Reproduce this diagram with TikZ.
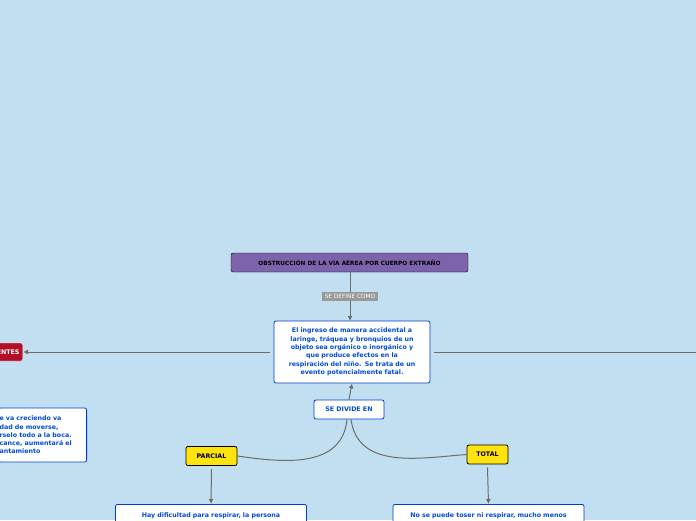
\documentclass[tikz,border=0pt]{standalone}
\usepackage{fontspec}
\setmainfont{DejaVu Sans}
\usetikzlibrary{arrows.meta}
\begin{document}
\begin{tikzpicture}[x=1pt,y=-1pt,
  every node/.style={font=\bfseries\fontsize{6.3}{8.3}\selectfont},
  conn/.style={draw=gray!85!black,line width=1pt},
  arr/.style={conn,-{Latex[length=5pt,width=5pt]}},
  wbox/.style={draw=blue!70!cyan!80!black,fill=white,rounded corners=2pt,text=blue!65!cyan!85!black,align=center,line width=0.8pt},
  ybox/.style={draw=black,fill=yellow!85!orange!95!white,rounded corners=2pt,line width=0.8pt,minimum height=19pt},
  ]
\fill[fill={rgb,255:red,194;green,223;blue,241}] (0,0) rectangle (696,520);
\useasboundingbox (0,0) rectangle (696,520);
\node[draw=black,fill={rgb,255:red,125;green,99;blue,172},rounded corners=2pt,minimum width=237pt,minimum height=19pt,font=\bfseries\fontsize{5.8}{7}\selectfont] (title) at (349.5,262.5) {OBSTRUCCIÓN DE LA VÍA AÉREA POR CUERPO EXTRAÑO};
\node[wbox,minimum width=156pt,minimum height=62pt,text width=150pt,inner sep=1pt] (def) at (352,352) {El ingreso de manera accidental a\\laringe, tráquea y bronquios de un\\objeto sea orgánico o inorgánico y\\que produce efectos en la\\respiración del niño. Se trata de un\\evento potencialmente fatal.};
\node[wbox,minimum width=70pt,minimum height=19pt] (div) at (349,409.5) {SE DIVIDE EN};
\node[draw=white,fill={rgb,255:red,180;green,15;blue,40},text=white,rounded corners=2pt,minimum height=18pt,anchor=east] (ant) at (23,352) {ANTECEDENTES};
\node[wbox,anchor=east,minimum height=54pt,text width=86pt,align=left,inner sep=1pt] (prev) at (87,435) {e va creciendo va\\dad de moverse,\\rselo todo a la boca.\\cance, aumentará el\\antamiento};
\node[ybox,minimum width=51pt,text=black] (par) at (211.5,456) {PARCIAL};
\node[ybox,minimum width=41pt,text=black] (tot) at (487.5,454.5) {TOTAL};
\node[wbox,anchor=north,minimum width=190pt,minimum height=30pt,text width=185pt,inner sep=3pt,align=center] (pb) at (211,504) {Hay dificultad para respirar, la persona\\ \phantom{x}};
\node[wbox,anchor=north,minimum width=191pt,minimum height=30pt,text width=185pt,inner sep=3pt] (tb) at (488.5,504) {No se puede toser ni respirar, mucho menos\\ \phantom{x}};
\coordinate (redge) at (697,352);
\coordinate (tb1) at (350,272);
\coordinate (dt) at (350,321);
\draw[arr] (tb1) -- node[fill=gray!80,text=white,font=\fontsize{5.8}{7}\selectfont,inner sep=2.5pt,pos=0.5] {SE DEFINE COMO} (dt);
\draw[arr] ([xshift=-4pt]def.west) -- (ant.east);
\draw[conn] ([xshift=4pt]def.east) -- (redge);
\draw[arr] (div.north) -- (def.south);
\draw[conn] ([xshift=-2pt]div.south) .. controls (342,470) and (280,462) .. (par.east);
\draw[conn] ([xshift=2pt]div.south) .. controls (358,470) and (420,458) .. (tot.west);
\draw[arr] ([yshift=-3pt]par.south) -- (pb.north);
\draw[arr] ([yshift=-3pt]tot.south) -- (tb.north);
\end{tikzpicture}
\end{document}
